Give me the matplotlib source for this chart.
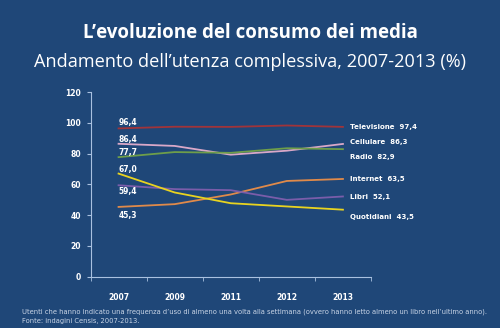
import matplotlib.pyplot as plt

# Anni e serie (% utenza)
anni = ['2007', '2009', '2011', '2012', '2013']
televisione = [96.4, 97.5, 97.4, 98.3, 97.4]
cellulare = [86.4, 85.0, 79.3, 81.9, 86.3]
radio = [77.7, 81.0, 80.5, 83.5, 82.9]
internet = [45.3, 47.1, 53.4, 62.2, 63.5]
libri = [59.4, 56.9, 56.2, 49.9, 52.1]
quotidiani = [67.0, 54.7, 47.7, 45.6, 43.5]

bg = '#1F4778'
assi = '#A9C1E0'

fig = plt.figure(figsize=(5, 3.28), dpi=100, facecolor=bg)
ax = fig.add_axes([0.181, 0.157, 0.561, 0.562], facecolor=bg)

x = range(len(anni))
serie = [
    (televisione, '#A0343A', 'Televisione  97,4', 0, '96,4', 3.8),
    (cellulare, '#D9A8C8', 'Cellulare  86,3', 1, '86,4', 2.7),
    (radio, '#6E9E4A', 'Radio  82,9', -5, '77,7', 3.0),
    (internet, '#E08A4A', 'Internet  63,5', -0.3, '45,3', -5.6),
    (libri, '#7A5DAA', 'Libri  52,1', -0.6, '59,4', -4.1),
    (quotidiani, '#E8D320', 'Quotidiani  43,5', -4.5, '67,0', 2.8),
]
for vals, col, etichetta, dy_dx, primo, dy_sx in serie:
    ax.plot(x, vals, color=col, lw=1.3)
    ax.text(4.12, vals[-1] + dy_dx, etichetta, color='white', fontsize=5.0,
            fontweight='bold', va='center', ha='left')
    ax.text(0, vals[0] + dy_sx, primo, color='white', fontsize=5.5,
            fontweight='bold', va='center', ha='left')

ax.set_xlim(-0.5, 4.5)
ax.set_ylim(0, 120)
ax.set_yticks(range(0, 121, 20))
ax.set_xticks(x)
ax.set_xticklabels(anni)
ax.set_xticks([i + 0.5 for i in range(-1, 5)], minor=True)
ax.tick_params(axis='x', which='major', length=0, pad=12)
ax.tick_params(axis='x', which='minor', length=3, color=assi, direction='out')
ax.tick_params(axis='y', length=3, color=assi, direction='out', pad=4)
ax.tick_params(labelsize=5.5, labelcolor='white')
for lab in ax.get_xticklabels() + ax.get_yticklabels():
    lab.set_fontweight('bold')
for s in ['top', 'right']:
    ax.spines[s].set_visible(False)
for s in ['left', 'bottom']:
    ax.spines[s].set_color(assi)
    ax.spines[s].set_linewidth(0.8)

fig.text(0.5, 0.898, 'L\u2019evoluzione del consumo dei media', color='white',
         fontsize=13.5, fontweight='bold', ha='center', va='center', family='Open Sans')
fig.text(0.5, 0.81, 'Andamento dell\u2019utenza complessiva, 2007-2013 (%)', color='white',
         fontsize=13.1, ha='center', va='center', family='Open Sans')

fig.text(0.043, 0.049, 'Utenti che hanno indicato una frequenza d\u2019uso di almeno una volta alla settimana '
         '(ovvero hanno letto almeno un libro nell\u2019ultimo anno).', color='#C8D4E6',
         fontsize=4.85, ha='left', va='center')
fig.text(0.043, 0.021, 'Fonte: indagini Censis, 2007-2013.', color='#C8D4E6',
         fontsize=4.85, ha='left', va='center')

plt.savefig('out.png', dpi=100, facecolor=bg)
